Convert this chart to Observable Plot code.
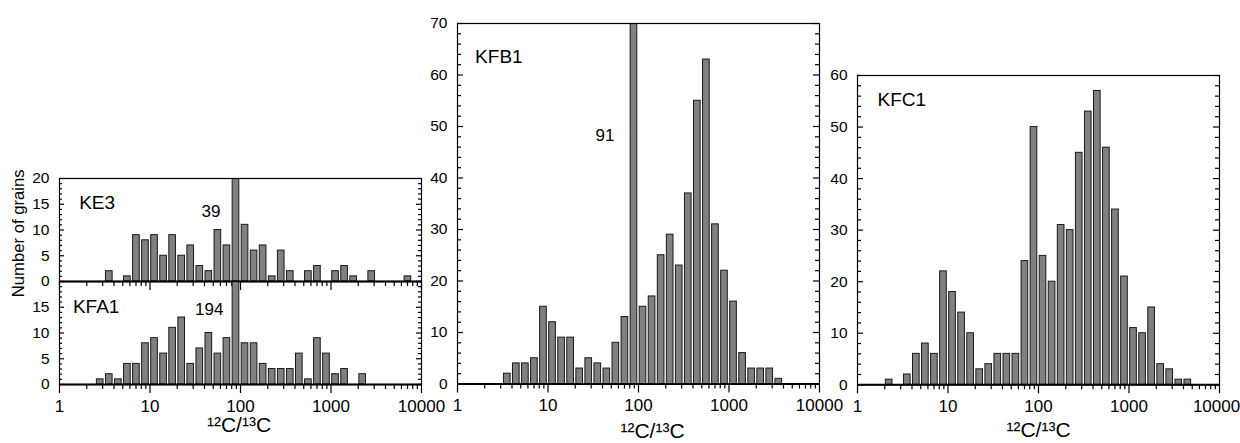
<!DOCTYPE html>
<html>
<head>
<meta charset="utf-8">
<script src="https://cdn.jsdelivr.net/npm/d3@7"></script>
<script src="https://cdn.jsdelivr.net/npm/@observablehq/plot@0.6"></script>
<style>
html, body { margin: 0; padding: 0; background: #fff; }
#chart { position: relative; width: 1240px; height: 443px; overflow: hidden; background: #fff;
  font-family: "Liberation Sans", Arial, Helvetica, sans-serif; }
#chart svg { position: absolute; overflow: visible; max-width: none; }
</style>
</head>
<body>
<div id="chart"></div>
<script>
// Histogram counts, one value per tenth-decade bin of 12C/13C from 1 to 10000 (40 bins)
const ke3Counts  = [0,0,0,0,0, 2,0,1,9,8, 9,5,9,5,7, 3,2,10,7,39, 11,6,7,1,6, 2,0,2,3,0, 2,3,1,0,2, 0,0,0,1,0];
const kfa1Counts = [0,0,0,0,1, 2,1,4,4,8, 9,6,11,13,4, 7,10,6,9,194, 8,8,4,3,3, 3,6,1,9,6, 2,3,0,2,0, 0,0,0,0,0];
const kfb1Counts = [0,0,0,0,0, 2,4,4,5,15, 12,9,9,3,5, 4,3,8,13,91, 15,17,25,29,23, 37,55,63,31,22, 16,6,3,3,3, 1,0,0,0,0];
const kfc1Counts = [0,0,0,1,0, 2,6,8,6,22, 18,14,10,3,4, 6,6,6,24,50, 25,20,31,30,45, 53,57,46,34,21, 11,10,15,4,3, 1,1,0,0,0];

// Panel names and annotation texts (counts of the truncated bars)
const panelNames = ["KE3", "KFA1", "KFB1", "KFC1"];
const overflowNotes = ["39", "194", "91", ""];

// Tick labels
const xTickValues = [1, 10, 100, 1000, 10000];
const xTickLabels = ["1", "10", "100", "1000", "10000"];
const ySmallLabelsTop = [0, 5, 10, 15, 20];
const ySmallLabelsBottom = [0, 5, 10, 15];
const yKfb1Labels = [0, 10, 20, 30, 40, 50, 60, 70];
const yKfc1Labels = [0, 10, 20, 30, 40, 50, 60];
const xAxisTitle = "\u00B9\u00B2C/\u00B9\u00B3C";
const yAxisTitle = "Number of grains";

const xMinor = [1, 10, 100, 1000].flatMap(d => [2, 3, 4, 5, 6, 7, 8, 9].map(m => m * d));

const FONT = "'Liberation Sans', Arial, Helvetica, sans-serif";
const INNER_W = 362;
const M_LEFT = 60, M_TOP = 12, M_RIGHT = 40, M_BOTTOM = 60;

const panels = [
  {counts: ke3Counts, name: panelNames[0], note: overflowNotes[0], yMax: 20, yLabels: ySmallLabelsTop,
   major: 5, minor: 1, majLen: 5, minLen: 3, left: 59.3, top: 177.7, innerH: 103, xLabels: false,
   nameDx: 19.7, nameDy: 16.6, noteY: 13.6, noteDx: -11, yTitle: true},
  {counts: kfa1Counts, name: panelNames[1], note: overflowNotes[1], yMax: 20, yLabels: ySmallLabelsBottom,
   major: 5, minor: 1, majLen: 5, minLen: 3, left: 59.3, top: 280.7, innerH: 103, xLabels: true,
   nameDx: 13.4, nameDy: 17.6, noteY: 14.5, noteDx: -8, titleDx: -1.5, titleDy: 33},
  {counts: kfb1Counts, name: panelNames[2], note: overflowNotes[2], yMax: 70, yLabels: yKfb1Labels,
   major: 10, minor: 2, majLen: 6, minLen: 4, left: 456.7, top: 23, innerH: 360.5, xLabels: true,
   nameDx: 17.6, nameDy: 26.3, noteY: 48.2, noteDx: -15, titleDx: 14, titleDy: 39.5},
  {counts: kfc1Counts, name: panelNames[3], note: overflowNotes[3], yMax: 60, yLabels: yKfc1Labels,
   major: 10, minor: 2, majLen: 6, minLen: 4, left: 856.7, top: 74.7, innerH: 309.3, xLabels: true,
   nameDx: 20, nameDy: 17.2, noteY: 0, noteDx: 0, titleDx: 0, titleDy: 37.7, lastLabelShift: -3}
];

const chart = document.getElementById("chart");

for (const p of panels) {
  const bins = p.counts
    .map((n, i) => ({lo: Math.pow(10, i / 10), hi: Math.pow(10, (i + 1) / 10), n}))
    .filter(d => d.n > 0);
  const majors = d3.range(0, p.yMax + 1e-9, p.major);
  const minors = d3.range(0, p.yMax + 1e-9, p.minor).filter(v => v % p.major !== 0);
  const labelFor = d => xTickLabels[xTickValues.indexOf(d)];
  const shiftLast = p.lastLabelShift !== undefined;

  const marks = [
    Plot.rectY(bins, {x1: "lo", x2: "hi", y1: 0, y2: "n", fill: "#808080", stroke: "#1a1a1a",
      strokeWidth: 1, insetLeft: 1.2, insetRight: 1.2, clip: true}),
    // inward y ticks, left and right
    Plot.tickY(majors, {y: d => d, insetRight: INNER_W - p.majLen, strokeWidth: 1.2}),
    Plot.tickY(minors, {y: d => d, insetRight: INNER_W - p.minLen, strokeWidth: 1.2}),
    Plot.tickY(majors, {y: d => d, insetLeft: INNER_W - p.majLen, strokeWidth: 1.2}),
    Plot.tickY(minors, {y: d => d, insetLeft: INNER_W - p.minLen, strokeWidth: 1.2}),
    Plot.frame({stroke: "black", strokeWidth: 1.2}),
    Plot.ruleY([0], {stroke: "black", strokeWidth: 2}),
    Plot.axisY({ticks: p.yLabels, tickSize: 0, tickPadding: 10, fontSize: 15.5, label: null}),
    Plot.axisX({ticks: xTickValues, tickSize: 9, tickPadding: 6, strokeWidth: 1.2, fontSize: 17, label: null,
      tickFormat: p.xLabels ? (d => (shiftLast && d === 10000) ? "" : labelFor(d)) : (() => "")}),
    Plot.axisX({ticks: xMinor, tickSize: 5, strokeWidth: 1.2, tickFormat: () => "", label: null}),
    Plot.text([p.name], {text: d => d, frameAnchor: "top-left", dx: p.nameDx, dy: p.nameDy,
      textAnchor: "start", lineAnchor: "top", fontSize: 19})
  ];
  if (shiftLast) {
    marks.push(Plot.axisX({ticks: [10000], tickSize: 0, tickPadding: 15, fontSize: 17, label: null,
      dx: p.lastLabelShift, tickFormat: labelFor}));
  }
  if (p.note) {
    marks.push(Plot.text([p.note], {text: d => d, x: () => Math.pow(10, 1.9), y: () => p.noteY,
      dx: p.noteDx, textAnchor: "end", lineAnchor: "middle", fontSize: 17}));
  }
  if (p.xLabels) {
    marks.push(Plot.text([xAxisTitle], {text: d => d, frameAnchor: "bottom", dx: p.titleDx, dy: p.titleDy,
      textAnchor: "middle", lineAnchor: "top", fontSize: 21}));
  }
  if (p.yTitle) {
    marks.push(Plot.text([yAxisTitle], {text: d => d, frameAnchor: "top-left", dx: 18.4 - p.left, dy: 54.8,
      rotate: -90, textAnchor: "middle", lineAnchor: "middle", fontSize: 16.7}));
  }

  const svg = Plot.plot({
    width: M_LEFT + INNER_W + M_RIGHT,
    height: M_TOP + p.innerH + M_BOTTOM,
    marginLeft: M_LEFT, marginRight: M_RIGHT, marginTop: M_TOP, marginBottom: M_BOTTOM,
    x: {type: "log", domain: [1, 10000], label: null},
    y: {domain: [0, p.yMax], label: null},
    style: {background: "transparent", overflow: "visible", fontFamily: FONT, color: "black", maxWidth: "none"},
    marks
  });
  svg.style.left = (p.left - M_LEFT) + "px";
  svg.style.top = (p.top - M_TOP) + "px";
  chart.appendChild(svg);
}
</script>
</body>
</html>
